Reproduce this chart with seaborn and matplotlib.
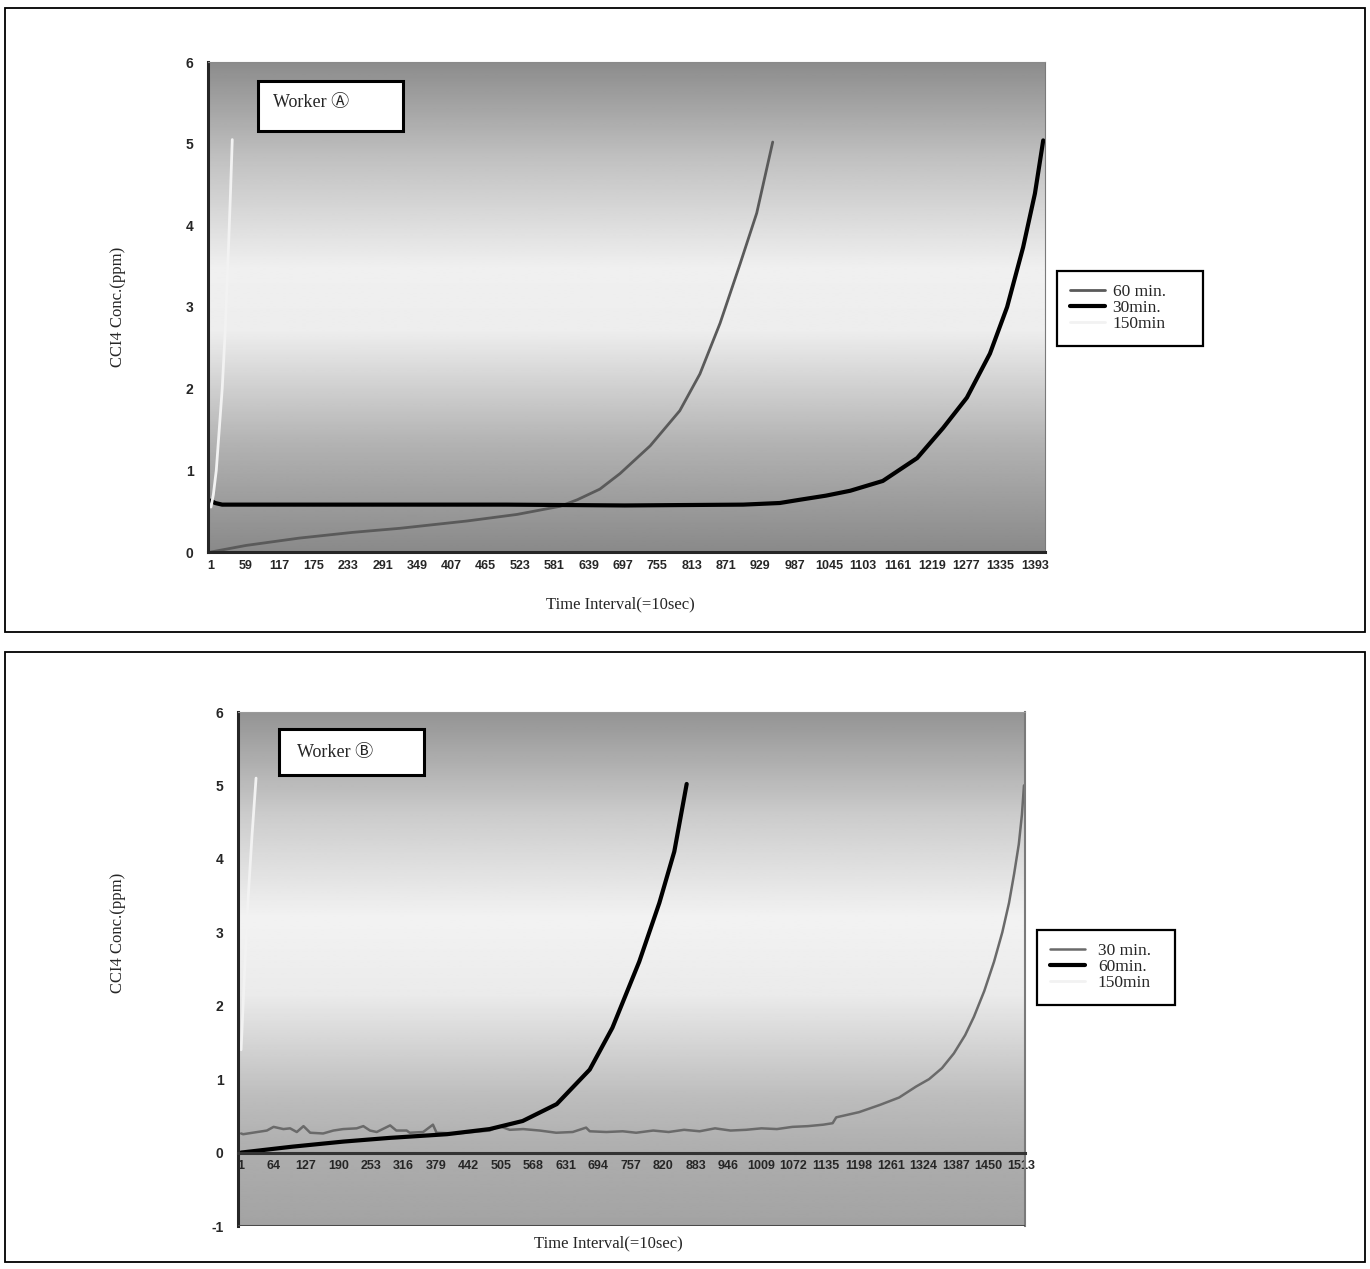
import numpy as np
import pandas as pd
import matplotlib
matplotlib.use('Agg')
import matplotlib.pyplot as plt
from matplotlib.patches import Rectangle
import seaborn as sns

sns.set_style('white')
plt.rcParams['font.family'] = ['Liberation Serif', 'Noto Sans CJK JP', 'DejaVu Sans']

# ─── data: Worker A ─────────────────────────────────────────────────────────
a60_idx = [1, 60, 150, 240, 320, 434, 518, 591, 620, 658, 692, 743, 793, 827, 861, 895, 923, 950]
a60_val = [0.0, 0.08, 0.17, 0.24, 0.29, 0.38, 0.46, 0.56, 0.64, 0.77, 0.96, 1.30, 1.73, 2.18, 2.80, 3.53, 4.15, 5.02]

a30_idx = [1, 8, 20, 100, 300, 500, 700, 900, 962, 996, 1040, 1081, 1136, 1194, 1238, 1278, 1317, 1346, 1373, 1393, 1407]
a30_val = [0.63, 0.60, 0.58, 0.58, 0.58, 0.58, 0.57, 0.58, 0.60, 0.64, 0.69, 0.75, 0.87, 1.15, 1.52, 1.89, 2.43, 3.00, 3.73, 4.39, 5.04]

a150_idx = [1, 5, 10, 15, 20, 25, 31, 34, 37]
a150_val = [0.55, 0.70, 1.00, 1.50, 2.00, 2.70, 3.80, 4.40, 5.05]

a_ticks = [1, 59, 117, 175, 233, 291, 349, 407, 465, 523, 581, 639, 697, 755, 813,
           871, 929, 987, 1045, 1103, 1161, 1219, 1277, 1335, 1393]

# ─── data: Worker B ─────────────────────────────────────────────────────────
b30_idx = [1, 5, 51, 64, 83, 96, 109, 122, 135, 160, 180, 199, 225, 238, 251, 264, 290, 302,
           322, 328, 354, 373, 380, 419, 451, 483, 502, 522, 548, 580, 612, 644, 670, 677,
           709, 741, 767, 800, 830, 860, 890, 920, 950, 980, 1010, 1040, 1070, 1100, 1130,
           1148, 1155, 1199, 1240, 1277, 1310, 1335, 1360, 1383, 1405, 1422, 1442, 1461,
           1477, 1490, 1500, 1509, 1515, 1519]
b30_val = [0.26, 0.25, 0.30, 0.35, 0.32, 0.33, 0.28, 0.36, 0.27, 0.26, 0.30, 0.32, 0.33, 0.36,
           0.30, 0.28, 0.37, 0.30, 0.30, 0.27, 0.28, 0.38, 0.27, 0.26, 0.28, 0.30, 0.36, 0.31,
           0.32, 0.30, 0.27, 0.28, 0.34, 0.29, 0.28, 0.29, 0.27, 0.30, 0.28, 0.31, 0.29, 0.33,
           0.30, 0.31, 0.33, 0.32, 0.35, 0.36, 0.38, 0.40, 0.48, 0.55, 0.65, 0.75, 0.90, 1.00,
           1.15, 1.35, 1.60, 1.85, 2.20, 2.60, 3.00, 3.40, 3.80, 4.20, 4.60, 5.00]

b60_idx = [1, 100, 200, 289, 400, 483, 547, 613, 677, 721, 773, 812, 841, 865]
b60_val = [0.0, 0.08, 0.15, 0.20, 0.25, 0.32, 0.43, 0.66, 1.13, 1.70, 2.60, 3.40, 4.10, 5.02]

b150_idx = [1, 8, 15, 22, 30]
b150_val = [1.40, 2.50, 3.50, 4.30, 5.10]

b_ticks = [1, 64, 127, 190, 253, 316, 379, 442, 505, 568, 631, 694, 757, 820, 883,
           946, 1009, 1072, 1135, 1198, 1261, 1324, 1387, 1450, 1513]

W, H = 1370, 1269
fig = plt.figure(figsize=(W / 100, H / 100), dpi=100)


def fbox(x0, y0, x1, y1, **kw):
    # rectangle given in pixel coords (top-left origin)
    r = Rectangle((x0 / W, 1 - y1 / H), (x1 - x0) / W, (y1 - y0) / H,
                  transform=fig.transFigure, **kw)
    fig.add_artist(r)


def background(ax, stops, levels):
    f = np.linspace(0, 1, 300)
    g = np.interp(f, stops, levels)[::-1].reshape(-1, 1)
    ax.imshow(g, extent=[0, 1, 0, 1], transform=ax.transAxes, aspect='auto',
              cmap='gray', vmin=0, vmax=1, zorder=0, interpolation='bilinear')


def legend_at(handles, labels, x0, y0, x1, y1, textpad):
    leg = fig.legend(handles, labels, loc='upper left',
                     bbox_to_anchor=(x0 / W, 1 - y1 / H, (x1 - x0) / W, (y1 - y0) / H),
                     mode='expand', borderaxespad=0, frameon=True, fancybox=False,
                     edgecolor='black', framealpha=1,
                     prop={'family': 'Liberation Serif', 'size': 12.5}, handlelength=2.0,
                     labelspacing=0.0, borderpad=0.75, handletextpad=textpad)
    leg.get_frame().set_linewidth(1.6)
    return leg


xtick_font = dict(family='Liberation Sans', weight='bold', size=9)
ytick_font = dict(family='Liberation Sans', weight='bold', size=10)
label_fam = ['Liberation Serif', 'Noto Sans CJK JP', 'DejaVu Sans']

# ─── panel A ────────────────────────────────────────────────────────────────
fbox(5, 8, 1365, 632, fill=False, ec='black', lw=1.3)
ax1 = fig.add_axes([208 / W, 1 - 552 / H, 837 / W, 490 / H])
background(ax1, [0, 0.22, 0.45, 0.58, 0.8, 1.0], [0.54, 0.70, 0.93, 0.94, 0.76, 0.55])

sns.lineplot(x=a60_idx, y=a60_val, ax=ax1, color='#5a5a5a', lw=2, label='60 min.', sort=False)
sns.lineplot(x=a30_idx, y=a30_val, ax=ax1, color='black', lw=3, label='30min.', sort=False)
sns.lineplot(x=a150_idx, y=a150_val, ax=ax1, color='#f2f2f2', lw=2, label='150min', sort=False)

ax1.set_xlim(-4, 1410)
ax1.set_ylim(0, 6)
ax1.spines['left'].set_linewidth(2.2)
ax1.spines['bottom'].set_linewidth(2.2)
ax1.spines['right'].set_color('#7a7a7a')
ax1.spines['top'].set_color('#8a8a8a')
ax1.set_xticks(a_ticks)
ax1.set_xticklabels([str(t) for t in a_ticks], fontdict=xtick_font)
ax1.set_yticks(range(0, 7))
ax1.set_yticklabels([str(v) for v in range(0, 7)], fontdict=ytick_font)
ax1.tick_params(axis='x', length=0, pad=6)
ax1.tick_params(axis='y', direction='inout', length=5, width=1.5, pad=8)
h1, l1 = ax1.get_legend_handles_labels()
ax1.get_legend().remove()
legend_at(h1, l1, 1057, 271, 1203, 345, 0.45)

fbox(258, 81, 403, 131, fill=True, fc='white', ec='black', lw=2.2)
fig.text(273 / W, 1 - 102 / H, 'Worker Ⓐ', fontsize=13, va='center', ha='left',
         family=label_fam)
fig.text(118 / W, 1 - 307 / H, 'CCI4 Conc.(ppm)', rotation=90, fontsize=12,
         ha='center', va='center')
fig.text(620 / W, 1 - 604 / H, 'Time Interval(=10sec)', fontsize=12, ha='center', va='center')

# ─── panel B ────────────────────────────────────────────────────────────────
fbox(5, 652, 1365, 1262, fill=False, ec='black', lw=1.3)
ax2 = fig.add_axes([238 / W, 1 - 1226 / H, 787 / W, 514 / H])
background(ax2, [0, 0.14, 0.25, 0.45, 0.6, 0.8, 1.0], [0.64, 0.68, 0.74, 0.92, 0.95, 0.80, 0.58])

sns.lineplot(x=b30_idx, y=b30_val, ax=ax2, color='#6a6a6a', lw=1.8, label='30 min.', sort=False)
sns.lineplot(x=b60_idx, y=b60_val, ax=ax2, color='black', lw=3, label='60min.', sort=False)
sns.lineplot(x=b150_idx, y=b150_val, ax=ax2, color='#f2f2f2', lw=2, label='150min', sort=False)

ax2.set_xlim(-5, 1521)
ax2.set_ylim(-1, 6)
# category axis crosses at zero, as in the spreadsheet original
ax2.spines['bottom'].set_position(('data', 0))
ax2.spines['bottom'].set_color('#333333')
ax2.spines['bottom'].set_linewidth(2.2)
ax2.spines['left'].set_linewidth(2.2)
ax2.spines['right'].set_color('#7a7a7a')
ax2.spines['right'].set_linewidth(1.5)
ax2.spines['top'].set_color('#9a9a9a')
ax2.axhline(-1, color='#4a4a4a', lw=2.2, zorder=3)
ax2.set_xticks(b_ticks)
ax2.set_xticklabels([str(t) for t in b_ticks], fontdict=xtick_font)
ax2.set_yticks(range(-1, 7))
ax2.set_yticklabels([str(v) for v in range(-1, 7)], fontdict=ytick_font)
ax2.tick_params(axis='x', length=0, pad=5)
ax2.tick_params(axis='y', direction='inout', length=5, width=1.5, pad=8)
h2, l2 = ax2.get_legend_handles_labels()
ax2.get_legend().remove()
legend_at(h2, l2, 1037, 930, 1175, 1003, 0.75)

fbox(279, 729, 424, 775, fill=True, fc='white', ec='black', lw=2.2)
fig.text(297 / W, 1 - 752 / H, 'Worker Ⓑ', fontsize=13, va='center', ha='left',
         family=label_fam)
fig.text(118 / W, 1 - 933 / H, 'CCI4 Conc.(ppm)', rotation=90, fontsize=12,
         ha='center', va='center')
fig.text(608 / W, 1 - 1243 / H, 'Time Interval(=10sec)', fontsize=12, ha='center', va='center')

fig.savefig('out.png', dpi=100)
